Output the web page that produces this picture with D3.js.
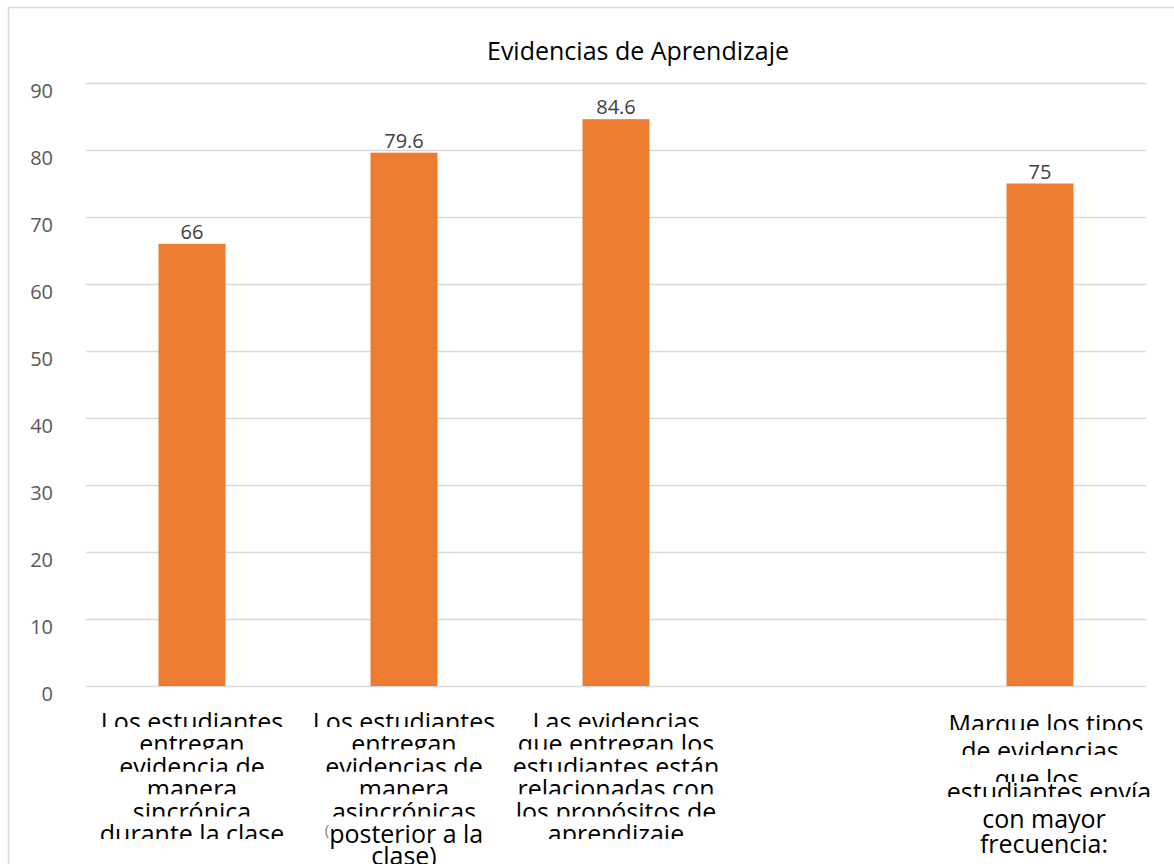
<!DOCTYPE html>
<html>
<head>
<meta charset="utf-8">
<script src="https://cdn.jsdelivr.net/npm/d3@7"></script>
<style>
  body { margin: 0; background: #fff; }
  svg { display: block; }
</style>
</head>
<body>
<div id="chart"></div>
<script>
// data
var categoryLines = [
	["Los estudiantes", "entregan", "evidencia de", "manera", "sincrónica", "durante la clase"],
	["Los estudiantes", "entregan", "evidencias de", "manera", "asincrónicas", "(posterior a la", "clase)"],
	["Las evidencias", "que entregan los", "estudiantes están", "relacionadas con", "los propósitos de", "aprendizaje"],
	[""],
	["Marque los tipos", "de evidencias", "que los", "estudiantes envía", "con mayor", "frecuencia:"]
];
var categories = categoryLines.map(function(l){ return l.join(" "); });
var values = [66, 79.6, 84.6, null, 75];
var yTicks = [0, 10, 20, 30, 40, 50, 60, 70, 80, 90];
var chartTitle = "Evidencias de Aprendizaje";

var W = 1174, H = 864;
var plotLeft = 86, plotRight = 1146, plotTop = 83, plotBottom = 686;

var svg = d3.select("#chart").append("svg")
	.attr("width", W)
	.attr("height", H);

// chart frame
svg.append("rect")
	.attr("x", 8.5).attr("y", 7.5)
	.attr("width", 1300).attr("height", 1000)
	.attr("fill", "none")
	.attr("stroke", "#d9d9d9")
	.attr("stroke-width", 1.5);

var x = d3.scaleBand().domain(categories).range([plotLeft, plotRight]);
var y = d3.scaleLinear().domain([0, 90]).range([plotBottom, plotTop]);

// gridlines + tick labels
var yAxis = svg.append("g")
	.attr("transform", "translate(" + plotLeft + ",0)")
	.call(d3.axisLeft(y).tickValues(yTicks).tickSize(-(plotRight - plotLeft)).tickPadding(33));

yAxis.select(".domain").remove();
yAxis.selectAll(".tick line")
	.attr("stroke", "#d9d9d9")
	.attr("stroke-width", 1.5);
yAxis.selectAll(".tick text")
	.attr("dy", 14)
	.attr("fill", "#595959")
	.attr("font-family", "'Open Sans', sans-serif")
	.attr("font-size", "20px");

// title
svg.append("text")
	.attr("x", 638)
	.attr("y", 60)
	.attr("text-anchor", "middle")
	.attr("font-family", "'Open Sans', sans-serif")
	.attr("font-size", "25px")
	.attr("fill", "#000")
	.text(chartTitle);

var barW = x.bandwidth() * 0.316;
var data = categories.map(function(c, i){ return {cat: c, value: values[i], lines: categoryLines[i]}; });
var withValue = data.filter(function(d){ return d.value != null; });

svg.selectAll("rect.bar")
	.data(withValue)
	.enter()
	.append("rect")
	.attr("class", "bar")
	.attr("x", function(d){ return x(d.cat) + x.bandwidth()/2 - barW/2; })
	.attr("y", function(d){ return y(d.value); })
	.attr("width", barW)
	.attr("height", function(d){ return y(0) - y(d.value); })
	.attr("fill", "#ed7d31");

svg.selectAll("text.val")
	.data(withValue)
	.enter()
	.append("text")
	.attr("class", "val")
	.attr("x", function(d){ return x(d.cat) + x.bandwidth()/2; })
	.attr("y", function(d){ return y(d.value) - 5; })
	.attr("text-anchor", "middle")
	.attr("font-family", "'Open Sans', sans-serif")
	.attr("font-size", "20px")
	.attr("fill", "#404040")
	.text(function(d){ return d.value; });

// category labels: lines overlap and get cut, like the original
function line_layout(ci, li)
{
	// last category was typed in by hand, its lines sit a bit off
	if (ci == 4)
	{
		var base = [733, 760, 788, 801, 828, 853];
		var dx = [6, 0, -3, 9, 4, 4];
		var cut = [3, 5, 6, 4, -5, null];
		return {dx: dx[li], y: base[li], cut: cut[li]};
	}
	var b = 731 + li * 22.4;
	var c = 4;
	if (ci == 1 && li >= 5) c = null;
	return {dx: 0, y: b, cut: c};
}

var defs = svg.append("defs");
var labels = svg.append("g").attr("class", "cat-labels");

data.forEach(function(d, ci)
{
	var cx = x(d.cat) + x.bandwidth()/2;
	d.lines.forEach(function(line, li)
	{
		if (line == "") return;
		var L = line_layout(ci, li);
		var t = labels.append("text")
			.attr("x", cx + L.dx)
			.attr("y", L.y)
			.attr("text-anchor", "middle")
			.attr("font-family", "'Open Sans', sans-serif")
			.attr("font-size", "25px")
			.attr("fill", "#000");

		if (line.charAt(0) == "(")
		{
			t.append("tspan")
				.attr("font-size", "15px")
				.attr("fill", "#808080")
				.attr("dy", -8)
				.text("(");
			t.append("tspan")
				.attr("dy", 8)
				.text(line.substring(1));
		}
		else
		{
			t.text(line);
		}

		if (L.cut != null)
		{
			var id = "clip_" + ci + "_" + li;
			defs.append("clipPath")
				.attr("id", id)
				.append("rect")
				.attr("x", cx - 160)
				.attr("y", L.y - 40)
				.attr("width", 320)
				.attr("height", 40 - L.cut);
			t.attr("clip-path", "url(#" + id + ")");
		}
	});
});
</script>
</body>
</html>
